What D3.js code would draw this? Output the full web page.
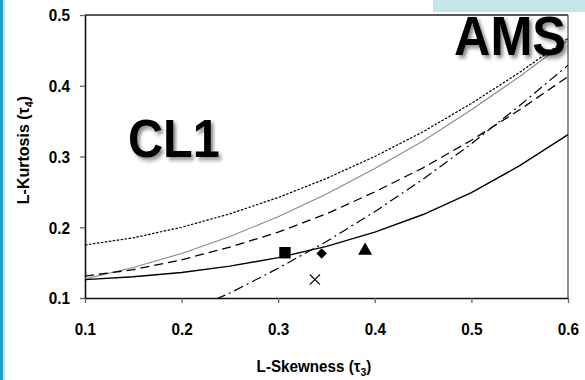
<!DOCTYPE html>
<html>
<head>
<meta charset="utf-8">
<script src="https://cdn.jsdelivr.net/npm/d3@7"></script>
<style>
  body { margin: 0; background: #fff; }
  svg { display: block; font-family: Arial, "Liberation Sans", sans-serif; }
</style>
</head>
<body>
<svg width="585" height="380"></svg>
<script>
// L-moment ratio curves, sampled every 0.05 in tau3
var tau3 = [0.1, 0.15, 0.2, 0.25, 0.3, 0.35, 0.4, 0.45, 0.5, 0.55, 0.6];
var glo = [0.175, 0.185, 0.200, 0.219, 0.242, 0.269, 0.300, 0.335, 0.375, 0.419, 0.467];
var gev = [0.127, 0.143, 0.163, 0.187, 0.215, 0.247, 0.283, 0.322, 0.366, 0.413, 0.464];
var gno = [0.131, 0.140, 0.154, 0.172, 0.193, 0.219, 0.250, 0.284, 0.323, 0.366, 0.413];
var pe3 = [0.126, 0.130, 0.136, 0.145, 0.157, 0.173, 0.193, 0.218, 0.249, 0.287, 0.331];
var gpa = [0.029, 0.051, 0.077, 0.107, 0.142, 0.180, 0.222, 0.268, 0.318, 0.372, 0.429];

// sample points
var pointNames = ["square", "diamond", "triangle", "cross"];
var pointT3 = [0.307, 0.345, 0.390, 0.338];
var pointT4 = [0.164, 0.163, 0.167, 0.126];

var xTicks = [0.1, 0.2, 0.3, 0.4, 0.5, 0.6];
var yTicks = [0.1, 0.2, 0.3, 0.4, 0.5];

var svg = d3.select("svg"),
    plotL = 85, plotR = 568, plotT = 15, plotB = 298;

var x = d3.scaleLinear().domain([0.1, 0.6]).range([plotL, plotR]),
    y = d3.scaleLinear().domain([0.1, 0.5]).range([plotB, plotT]);

var defs = svg.append("defs");
var shadow = defs.append("filter").attr("id", "shadow")
    .attr("x", "-20%").attr("y", "-20%").attr("width", "150%").attr("height", "150%");
shadow.append("feDropShadow")
    .attr("dx", 3).attr("dy", 3).attr("stdDeviation", 2)
    .attr("flood-color", "#000").attr("flood-opacity", 0.45);
defs.append("clipPath").attr("id", "plot")
    .append("rect").attr("x", plotL).attr("y", plotT)
    .attr("width", plotR - plotL).attr("height", plotB - plotT);

// slide decorations
svg.append("rect").attr("x", 0).attr("y", 0).attr("width", 3).attr("height", 380).attr("fill", "#1ba0cc");
svg.append("rect").attr("x", 3).attr("y", 0).attr("width", 2).attr("height", 380).attr("fill", "#bfe3ef");
svg.append("rect").attr("x", 433).attr("y", 0).attr("width", 152).attr("height", 12).attr("fill", "#c4e5e9");

// frame top / right
svg.append("line").attr("x1", plotL).attr("x2", plotR).attr("y1", plotT).attr("y2", plotT)
    .attr("stroke", "#222").attr("stroke-width", 1.3);
svg.append("line").attr("x1", plotR).attr("x2", plotR).attr("y1", plotT).attr("y2", plotB)
    .attr("stroke", "#555").attr("stroke-width", 1.3);

// axes
var xAxis = svg.append("g").attr("transform", "translate(0," + plotB + ")")
    .call(d3.axisBottom(x).tickValues(xTicks).tickSize(5).tickSizeOuter(0).tickFormat(d3.format(".1f")));
var yAxis = svg.append("g").attr("transform", "translate(" + plotL + ",0)")
    .call(d3.axisLeft(y).tickValues(yTicks).tickSize(5).tickSizeOuter(0).tickFormat(d3.format(".1f")));

[xAxis, yAxis].forEach(function(a) {
    a.select(".domain").attr("stroke", "#111").attr("stroke-width", 1.6);
    a.selectAll(".tick line").attr("stroke", "#666").attr("stroke-width", 1.3);
    a.selectAll(".tick text").attr("fill", "#000")
        .style("font-size", "17px").style("font-weight", "bold");
});
xAxis.selectAll(".tick text").attr("y", 0).attr("dy", 0)
    .attr("transform", "translate(0,37) scale(0.9,1)");
yAxis.selectAll(".tick text").attr("x", 0).attr("dy", "0.35em")
    .attr("transform", "translate(-15,0) scale(0.9,1)");

// axis titles
var xt = svg.append("text").attr("transform", "translate(314,372) scale(0.95,1)")
    .attr("text-anchor", "middle").style("font-size", "16px").style("font-weight", "bold");
xt.append("tspan").text("L-Skewness (");
xt.append("tspan").text("τ");
xt.append("tspan").attr("dy", 4).style("font-size", "11px").text("3");
xt.append("tspan").attr("dy", -4).text(")");

var yt = svg.append("text").attr("transform", "translate(29,150) rotate(-90)")
    .attr("text-anchor", "middle").style("font-size", "16px").style("font-weight", "bold");
yt.append("tspan").text("L-Kurtosis (");
yt.append("tspan").text("τ");
yt.append("tspan").attr("dy", 4).style("font-size", "11px").text("4");
yt.append("tspan").attr("dy", -4).text(")");

// curves
var line = d3.line()
    .x(function(d) { return x(d[0]); })
    .y(function(d) { return y(d[1]); });

var curves = [
    {values: glo, stroke: "#000", width: 1.2, dash: "2.5,1.5"},
    {values: gev, stroke: "#8a8a8a", width: 1.1, dash: null},
    {values: gno, stroke: "#000", width: 1.3, dash: "9,5"},
    {values: gpa, stroke: "#000", width: 1.2, dash: "10,4,2,4"},
    {values: pe3, stroke: "#000", width: 1.4, dash: null}
];

var g = svg.append("g").attr("clip-path", "url(#plot)");
g.selectAll("path.curve")
    .data(curves)
    .enter().append("path")
    .attr("class", "curve")
    .attr("d", function(c) { return line(c.values.map(function(v, i) { return [tau3[i], v]; })); })
    .attr("fill", "none")
    .attr("stroke", function(c) { return c.stroke; })
    .attr("stroke-width", function(c) { return c.width; })
    .attr("stroke-dasharray", function(c) { return c.dash; });

// markers (diamond = square turned 45deg, wider than d3's diamond)
var symbolType = {
    square: d3.symbolSquare,
    diamond: d3.symbolSquare,
    triangle: d3.symbolTriangle,
    cross: d3.symbolX
};
var symbolSize = {square: 130, diamond: 55, triangle: 85, cross: 70};

svg.selectAll("path.marker")
    .data(pointNames)
    .enter().append("path")
    .attr("class", "marker")
    .attr("transform", function(d, i) {
        return "translate(" + x(pointT3[i]) + "," + y(pointT4[i]) + ")" + (d === "diamond" ? " rotate(45)" : "");
    })
    .attr("d", function(d) { return d3.symbol().type(symbolType[d]).size(symbolSize[d])(); })
    .attr("fill", function(d) { return d === "cross" ? "none" : "#000"; })
    .attr("stroke", "#000")
    .attr("stroke-width", function(d) { return d === "cross" ? 1.1 : 0; });

// region labels
svg.append("text").attr("transform", "translate(128,157) scale(0.9,1)")
    .attr("filter", "url(#shadow)")
    .style("font-size", "54px").style("font-weight", "bold").text("CL1");
svg.append("text").attr("transform", "translate(454,55) scale(0.9,1)")
    .attr("filter", "url(#shadow)")
    .style("font-size", "56px").style("font-weight", "bold").text("AMS");
</script>
</body>
</html>
